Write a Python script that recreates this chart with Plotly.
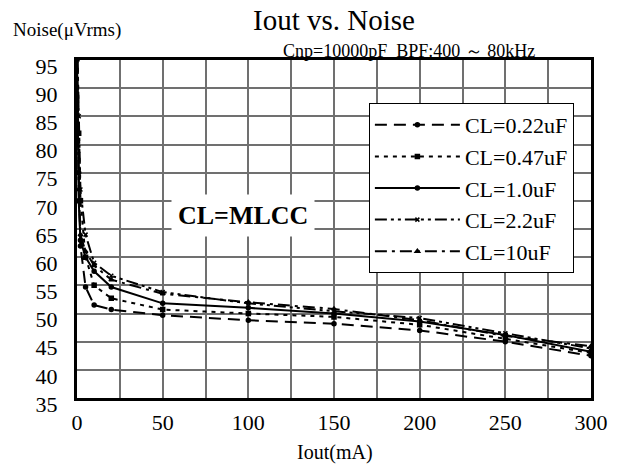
import plotly.graph_objects as go

# ---- data ----
iout_ma = [0, 1, 2, 5, 10, 20, 50, 100, 150, 200, 250, 300]
noise_022uF = [98, 75, 62, 54.7, 51.5, 50.7, 49.7, 48.8, 48.2, 47.0, 45.0, 42.5]
noise_047uF = [100, 82, 70, 60, 55, 52.7, 50.7, 50.0, 49.4, 48.0, 45.5, 43.0]
noise_10uF_1 = [96, 70, 63, 60, 57.5, 54.7, 51.8, 51.0, 50.0, 48.6, 46.2, 43.2]
noise_22uF = [100, 85, 72, 64, 59, 56.7, 53.8, 51.8, 50.4, 49.2, 46.5, 43.8]
noise_10uF = [95, 72, 64, 61, 58.5, 56.0, 53.5, 52.0, 50.8, 48.8, 46.0, 44.2]

series_names = ["CL=0.22uF", "CL=0.47uF", "CL=1.0uF", "CL=2.2uF", "CL=10uF"]
series_values = [noise_022uF, noise_047uF, noise_10uF_1, noise_22uF, noise_10uF]

x_tickvals = [0, 25, 50, 75, 100, 125, 150, 175, 200, 225, 250, 275, 300]
x_ticktext = ["0", "", "50", "", "100", "", "150", "", "200", "", "250", "", "300"]
y_tickvals = [35, 40, 45, 50, 55, 60, 65, 70, 75, 80, 85, 90, 95]

# ---- styles ----
dashes = ["12px,7px", "4px,5px", "solid", "12px,4px,3px,4px,3px,4px", "12px,5px,3px,5px"]
symbols = ["circle", "square", "circle", "x-thin", "triangle-up"]
FONT = "Liberation Serif"

fig = go.Figure()
for i, (name, vals) in enumerate(zip(series_names, series_values)):
    fig.add_trace(go.Scatter(
        x=iout_ma, y=vals, name=name, mode="lines+markers",
        legendgroup=f"g{i}",
        line=dict(color="black", width=2, dash=dashes[i]),
        marker=dict(color="black", size=4, symbol=symbols[i],
                    line=dict(color="black", width=1.5)),
    ))

L, R, T, B = 77, 20, 60, 70
W, H = 620, 468
pw, ph = W - L - R, H - T - B

def px(xp):
    return (xp - L) / pw

def py(yp):
    return (T + ph - yp) / ph

def label(text, xp, yp, size):
    return dict(text=text, xref="paper", yref="paper", x=px(xp), y=py(yp),
                xanchor="center", yanchor="middle", showarrow=False,
                font=dict(family=FONT, size=size, color="black"))

mlcc = label("<b>CL=MLCC</b>", 246, 215, 26)
mlcc.update(bgcolor="white", borderpad=6)

fig.update_layout(
    width=W, height=H,
    margin=dict(l=L, r=R, t=T, b=B),
    paper_bgcolor="white", plot_bgcolor="white",
    font=dict(family=FONT, color="black", size=20),
    showlegend=True,
    legend=dict(
        x=px(374), y=py(103), xanchor="left", yanchor="top",
        bgcolor="white", bordercolor="black", borderwidth=1,
        font=dict(family=FONT, size=22, color="black"),
        itemwidth=85, tracegroupgap=0,
    ),
    xaxis=dict(
        range=[0, 300], tickvals=x_tickvals, ticktext=x_ticktext,
        showgrid=True, gridcolor="#707070", gridwidth=1.5,
        showline=True, linecolor="black", linewidth=3, mirror=True,
        ticks="", zeroline=False,
        tickfont=dict(family=FONT, size=22, color="black"),
        ticklabelstandoff=3,
    ),
    yaxis=dict(
        range=[35, 95], tickvals=y_tickvals,
        showgrid=True, gridcolor="#707070", gridwidth=1.5,
        showline=True, linecolor="black", linewidth=3, mirror=True,
        ticks="", zeroline=False,
        tickfont=dict(family=FONT, size=22, color="black"),
        ticklabelstandoff=12, ticklabelshift=6,
    ),
    annotations=[
        label("Iout vs. Noise", 338, 20, 29),
        label("Cnp=10000pF  BPF:400 ～ 80kHz", 415, 51, 18),
        label("Noise(μVrms)", 67, 30, 19),
        label("Iout(mA)", 340, 452, 20),
        mlcc,
    ],
)

fig.write_html("out.html")
